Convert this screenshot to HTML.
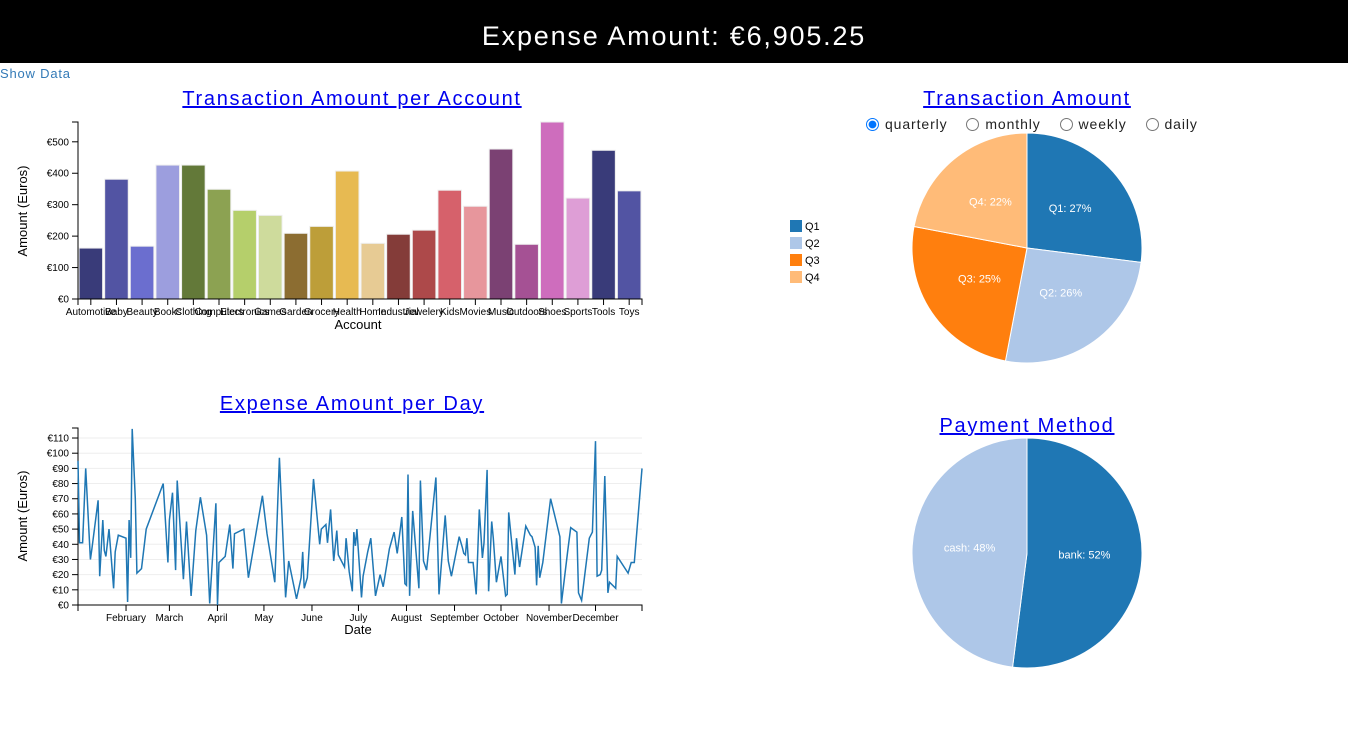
<!DOCTYPE html>
<html><head><meta charset="utf-8">
<style>
body{margin:0;width:1348px;height:736px;overflow:hidden;background:#fff;font-family:"Liberation Sans",sans-serif;}
#hdr{position:absolute;left:0;top:0;width:1348px;height:63px;background:#000;color:#fff;font-size:27px;letter-spacing:1.8px;text-align:center;line-height:72px;}
#show{position:absolute;left:0;top:66px;font-size:13px;letter-spacing:0.8px;color:#337ab7;cursor:pointer;}
.t{position:absolute;font-size:20px;letter-spacing:1.7px;color:#00e;text-decoration:underline;text-align:center;width:500px;}
#radios{position:absolute;left:866px;top:116px;font-size:14px;letter-spacing:0.9px;color:#222;}
#radios label{margin-right:14px;}
#radios input{margin:0 6px 0 0;vertical-align:-2px;}
svg{position:absolute;left:0;top:0;}
</style></head><body>
<div id="hdr">Expense Amount: €6,905.25</div>
<div id="show">Show Data</div>
<div class="t" style="left:102px;top:88px">Transaction Amount per Account</div>
<div class="t" style="left:102px;top:393px">Expense Amount per Day</div>
<div class="t" style="left:777px;top:88px">Transaction Amount</div>
<div class="t" style="left:777px;top:415px">Payment Method</div>
<div id="radios">
<label><input type="radio" name="p" checked>quarterly</label>
<label><input type="radio" name="p">monthly</label>
<label><input type="radio" name="p">weekly</label>
<label><input type="radio" name="p">daily</label>
</div>
<svg id="s" width="1348" height="736"></svg>
<script>
const accounts=["Automotive","Baby","Beauty","Books","Clothing","Computers","Electronics","Games","Garden","Grocery","Health","Home","Industrial","Jewelery","Kids","Movies","Music","Outdoors","Shoes","Sports","Tools","Toys"];
const amounts=[162,381,168,426,426,349,282,266,209,231,407,177,206,219,346,295,477,174,563,321,473,344];
const barColors=["#393b79","#5254a3","#6b6ecf","#9c9ede","#637939","#8ca252","#b5cf6b","#cedb9c","#8c6d31","#bd9e39","#e7ba52","#e7cb94","#843c39","#ad494a","#d6616b","#e7969c","#7b4173","#a55194","#ce6dbd","#de9ed6","#393b79","#5254a3"];
const days=[0,1,3,5,8,9,13,14,16,17,18,20,23,24,26,31,32,33,34,35,37,38,41,44,55,58,59,61,63,64,68,70,73,76,79,83,85,89,90,91,95,98,100,101,107,110,119,122,127,130,132,134,136,141,144,145,146,148,152,156,157,160,161,163,165,167,168,172,173,175,177,178,179,180,183,184,187,189,192,195,197,201,204,206,209,211,212,213,214,216,220,221,223,225,231,233,237,239,241,246,248,249,250,251,252,255,257,259,261,262,264,265,267,268,270,273,276,277,278,282,283,285,289,292,293,295,296,297,298,300,305,311,312,316,318,322,323,325,330,332,334,335,337,338,340,342,343,347,348,355,357,359,364];
const dayValues=[95,41,41,90,30,37,69,19,56,36,32,50,11,35,46,44,2,56,31,116,70,21,24,50,80,28,56,74,23,82,17,55,6,49,71,46,1,67,0,28,32,53,24,47,50,18,72,47,15,97,51,5,29,4,18,35,11,18,83,40,50,53,41,63,29,49,33,25,44,22,9,48,39,50,5,19,35,44,6,20,12,37,48,34,58,14,13,86,6,62,11,82,29,23,84,7,59,29,19,45,38,34,33,44,28,28,7,63,31,41,89,9,55,44,15,32,6,7,61,20,44,25,52,46,45,38,13,39,18,28,70,45,1,35,51,48,8,3,44,48,108,19,20,23,85,8,15,11,32,21,28,28,90];
const months=["February","March","April","May","June","July","August","September","October","November","December"];
const monthStarts=[31,59,90,120,151,181,212,243,273,304,334];
const barTicks=[0,100,200,300,400,500];
const lineTicks=[0,10,20,30,40,50,60,70,80,90,100,110];
const quarters=["Q1","Q2","Q3","Q4"];
const quarterPct=[27,26,25,22];
const quarterColors=["#1f77b4","#aec7e8","#ff7f0e","#ffbb78"];
const methods=["bank","cash"];
const methodPct=[52,48];
const methodColors=["#1f77b4","#aec7e8"];

const NS="http://www.w3.org/2000/svg",S=document.getElementById('s');
function mk(t,a,p){const e=document.createElementNS(NS,t);for(const k in a)e.setAttribute(k,a[k]);(p||S).appendChild(e);return e;}
function txt(x,y,s,a,p){const e=mk('text',Object.assign({x:x,y:y,'font-size':10,'font-family':'Liberation Sans, sans-serif'},a),p);e.textContent=s;return e;}

// BAR CHART
const bx0=78,bx1=642,by0=299,by1=122,bmax=563;
const bw=(bx1-bx0)/accounts.length,pad=0.08;
const byS=v=>by0-(v/bmax)*(by0-by1);
const bg=mk('g',{});

accounts.forEach((a,i)=>{
 const r=mk('rect',{x:bx0+i*bw+bw*pad/2,y:byS(amounts[i]),width:bw*(1-pad),height:by0-byS(amounts[i]),fill:barColors[i],stroke:'#eee','stroke-width':1},bg);
 
 
 const cx=bx0+i*bw+bw/2;
 mk('line',{x1:cx,x2:cx,y1:by0,y2:by0+6,stroke:'#000'},bg);
 const t=txt(cx,by0+16,a,{'text-anchor':'middle'},bg);
 
});
mk('path',{d:`M${bx0},${by0+6}V${by0}H${bx1}V${by0+6}`,stroke:'#000',fill:'none'},bg);
mk('path',{d:`M${bx0-6},${by1}H${bx0}V${by0}H${bx0-6}`,stroke:'#000',fill:'none'},bg);
barTicks.forEach(v=>{mk('line',{x1:bx0-6,x2:bx0,y1:byS(v),y2:byS(v),stroke:'#000'},bg);
 const t=txt(bx0-9,byS(v)+3.5,'€'+v,{'text-anchor':'end'},bg);});
let t1=txt(358,329,'Account',{'text-anchor':'middle','font-size':13},bg);
t1=txt(0,0,'Amount (Euros)',{'text-anchor':'middle','font-size':13,transform:`translate(27,211) rotate(-90)`},bg);

// LINE CHART
const lx0=78,lx1=642,ly0=605,ly1=428,lmax=116.6;
const lxS=d=>lx0+d/364*(lx1-lx0),lyS=v=>ly0-v/lmax*(ly0-ly1);
const lg=mk('g',{});

lineTicks.forEach(v=>{if(v>0)mk('line',{x1:lx0,x2:lx1,y1:lyS(v),y2:lyS(v),stroke:'#eee'},lg);
 mk('line',{x1:lx0-6,x2:lx0,y1:lyS(v),y2:lyS(v),stroke:'#000'},lg);
 const t=txt(lx0-9,lyS(v)+3.5,'€'+v,{'text-anchor':'end'},lg);});
mk('path',{d:`M${lx0-6},${ly1}H${lx0}V${ly0}H${lx0-6}`,stroke:'#000',fill:'none'},lg);
mk('path',{d:`M${lx0},${ly0+6}V${ly0}H${lx1}V${ly0+6}`,stroke:'#000',fill:'none'},lg);
months.forEach((m,i)=>{const x=lxS(monthStarts[i]);mk('line',{x1:x,x2:x,y1:ly0,y2:ly0+6,stroke:'#000'},lg);
 const t=txt(x,ly0+16,m,{'text-anchor':'middle'},lg);});
const lp=mk('path',{d:days.map((d,i)=>(i?'L':'M')+lxS(d).toFixed(1)+','+lyS(dayValues[i]).toFixed(1)).join(''),fill:'none',stroke:'#1f77b4','stroke-width':1.5},lg);

t1=txt(358,634,'Date',{'text-anchor':'middle','font-size':13},lg);
t1=txt(0,0,'Amount (Euros)',{'text-anchor':'middle','font-size':13,transform:`translate(27,516) rotate(-90)`},lg);

// PIES
function pie(cx,cy,r,labels,pcts,cols,name){
 const g=mk('g',{});
 const tot=pcts.reduce((a,b)=>a+b,0);let a0=0;
 pcts.forEach((p,i)=>{const a1=a0+p/tot*2*Math.PI;
  const P=a=>[cx+r*Math.sin(a),cy-r*Math.cos(a)];const s=P(a0),e=P(a1);
  const sl=mk('path',{d:`M${cx},${cy}L${s[0]},${s[1]}A${r},${r} 0 ${a1-a0>Math.PI?1:0} 1 ${e[0]},${e[1]}Z`,fill:cols[i],stroke:'#fff','stroke-width':1},g);
  
  const m=(a0+a1)/2;const t=txt(cx+r*0.5*Math.sin(m),cy-r*0.5*Math.cos(m)+2,labels[i]+': '+p+'%',{'text-anchor':'middle','font-size':11,fill:'#fff'},g);
  
  a0=a1;});
}
pie(1027,248,115,quarters,quarterPct,quarterColors,'quarter-pie');
pie(1027,553,115,methods,methodPct,methodColors,'payment-pie');
const lgd=mk('g',{});
quarters.forEach((q,i)=>{const r=mk('rect',{x:790,y:220+i*17,width:12,height:12,fill:quarterColors[i]},lgd);
 
 const t=txt(805,230+i*17,q,{'font-size':11},lgd);});
</script>
</body></html>
